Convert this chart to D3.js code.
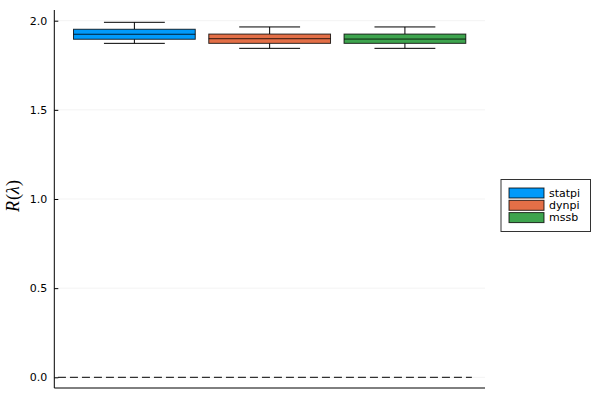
<!DOCTYPE html>
<html><head><meta charset="utf-8">
<script src="https://cdn.jsdelivr.net/npm/d3@7"></script>
<style>body{margin:0;background:#fff;} svg{display:block;}</style>
</head><body>
<svg id="c" width="600" height="400"></svg>
<script>
const categories = ["statpi", "dynpi", "mssb"];
const colors = ["#009AFA", "#E36F47", "#3EA44E"];
const lowerWhisker = [1.873, 1.845, 1.845];
const q1 = [1.896, 1.873, 1.873];
const medians = [1.924, 1.899, 1.897];
const q3 = [1.952, 1.925, 1.925];
const upperWhisker = [1.991, 1.965, 1.965];
const yTicks = [0.0, 0.5, 1.0, 1.5, 2.0];
const refLine = {y: 0, x0: -0.065, x1: 2.995};

(function(){
const svg = d3.select("#c");
const pLeft = 54.3, pRight = 485, pTop = 10, pBottom = 388;
const x = d3.scaleLinear().domain([-0.092, 3.092]).range([pLeft, pRight]);
const y = d3.scaleLinear().domain([0, 2]).range([377.3, 20.7]);
const boxW = 0.9, whW = 0.45;

// grid
svg.append("g").selectAll("line").data(yTicks).join("line")
  .attr("x1", pLeft).attr("x2", pRight)
  .attr("y1", d => y(d)).attr("y2", d => y(d))
  .attr("stroke", "#000").attr("stroke-opacity", 0.1).attr("stroke-width", 0.5);

// boxes
const g = svg.append("g");
categories.forEach((c, i) => {
  const cx = i + 0.5;
  const bg = g.append("g");
  bg.append("line").attr("x1", x(cx)).attr("x2", x(cx))
    .attr("y1", y(upperWhisker[i])).attr("y2", y(q3[i])).attr("stroke", "#000").attr("stroke-width", 1);
  bg.append("line").attr("x1", x(cx)).attr("x2", x(cx))
    .attr("y1", y(q1[i])).attr("y2", y(lowerWhisker[i])).attr("stroke", "#000").attr("stroke-width", 1);
  bg.append("line").attr("x1", x(cx - whW/2)).attr("x2", x(cx + whW/2))
    .attr("y1", y(upperWhisker[i])).attr("y2", y(upperWhisker[i])).attr("stroke", "#000").attr("stroke-width", 1);
  bg.append("line").attr("x1", x(cx - whW/2)).attr("x2", x(cx + whW/2))
    .attr("y1", y(lowerWhisker[i])).attr("y2", y(lowerWhisker[i])).attr("stroke", "#000").attr("stroke-width", 1);
  bg.append("rect").attr("x", x(cx - boxW/2)).attr("width", x(cx + boxW/2) - x(cx - boxW/2))
    .attr("y", y(q3[i])).attr("height", y(q1[i]) - y(q3[i]))
    .attr("fill", colors[i]).attr("stroke", "#000").attr("stroke-opacity", 0.8).attr("stroke-width", 1);
  bg.append("line").attr("x1", x(cx - boxW/2)).attr("x2", x(cx + boxW/2))
    .attr("y1", y(medians[i])).attr("y2", y(medians[i])).attr("stroke", "#000").attr("stroke-opacity", 0.8).attr("stroke-width", 1);
});

// dashed reference line
svg.append("line").attr("x1", x(refLine.x0)).attr("x2", x(refLine.x1))
  .attr("y1", y(refLine.y)).attr("y2", y(refLine.y))
  .attr("stroke", "#000").attr("stroke-width", 1).attr("stroke-dasharray", "8,4");

// axes
const yAxis = d3.axisLeft(y).tickValues(yTicks).tickFormat(d3.format(".1f")).tickSize(4).tickPadding(4);
const ya = svg.append("g").attr("transform", `translate(${pLeft},0)`).call(yAxis);
ya.select(".domain").remove();
ya.selectAll(".tick line").attr("transform", "translate(4,0)").attr("stroke", "#000").attr("stroke-width", 1);
ya.selectAll("text").attr("font-family", "DejaVu Sans").attr("font-size", 11).attr("fill", "#000").attr("x", -7);
svg.append("line").attr("x1", pLeft).attr("x2", pLeft).attr("y1", pTop).attr("y2", pBottom).attr("stroke", "#000").attr("stroke-width", 1);
svg.append("line").attr("x1", pLeft).attr("x2", pRight).attr("y1", pBottom).attr("y2", pBottom).attr("stroke", "#000").attr("stroke-width", 1);

// y label
const yl = svg.append("text").attr("transform", "translate(19,196) rotate(-90)")
  .attr("text-anchor", "middle").attr("font-family", "Liberation Serif").attr("font-size", 18).attr("fill", "#000");
yl.append("tspan").attr("font-style", "italic").text("R");
yl.append("tspan").attr("dx", 1).text("(");
yl.append("tspan").attr("font-style", "italic").text("λ");
yl.append("tspan").text(")");

// legend
const lg = svg.append("g");
lg.append("rect").attr("x", 501).attr("y", 179.5).attr("width", 89.5).attr("height", 52)
  .attr("fill", "#fff").attr("stroke", "#000").attr("stroke-opacity", 0.8).attr("stroke-width", 1);
categories.forEach((c, i) => {
  lg.append("rect").attr("x", 509).attr("y", 188 + i*12.3).attr("width", 35).attr("height", 10)
    .attr("fill", colors[i]).attr("stroke", "#000").attr("stroke-opacity", 0.8).attr("stroke-width", 1);
  lg.append("text").attr("x", 549).attr("y", 193 + i*12.3).attr("dy", "0.35em")
    .attr("font-family", "DejaVu Sans").attr("font-size", 11).attr("fill", "#000").text(c);
});
})();
</script>
</body></html>
